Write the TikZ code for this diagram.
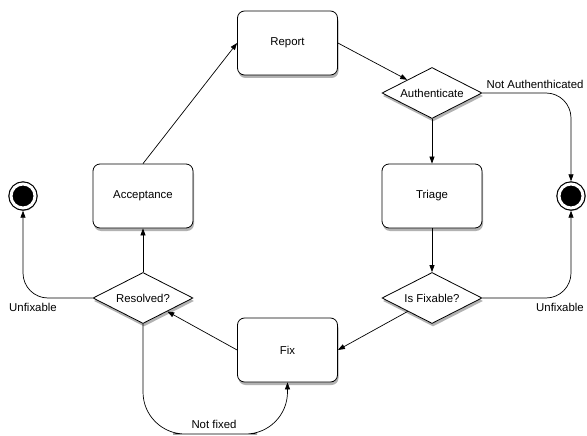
\documentclass[tikz,border=0pt]{standalone}
\usepackage{fontspec}
\setmainfont{Liberation Sans}
\usetikzlibrary{shapes.geometric,shadows,arrows.meta}

\tikzset{
  shade/.style={drop shadow={shadow xshift=1pt,shadow yshift=-3pt,opacity=0.3,fill=black}},
  state/.style={draw,rounded corners=7pt,fill=white,minimum width=100pt,minimum height=64pt,line width=0.8pt,shade},
  decision/.style={draw,diamond,aspect=2,fill=white,minimum width=100pt,minimum height=51pt,inner sep=0pt,line width=0.8pt,shade},
  endstate/.style={circle,draw=black,fill=black,double=white,double distance=3pt,line width=1.2pt,minimum size=24pt,outer sep=2.7pt,shade},
  flow/.style={-{Triangle[length=7pt,width=5pt]},line width=0.7pt},
  lbl/.style={font=\fontsize{11.4}{13}\selectfont}
}

\begin{document}
\begin{tikzpicture}[x=1pt,y=-1pt,lbl]
		%%Frame
		\useasboundingbox[fill=white] (0,0) rectangle (587,436);
		%%States
		\node[state] (report) at (287.5,43) {Report};
		\node[decision] (auth) at (432,93) {Authenticate};
		\node[state] (triage) at (432,196) {Triage};
		\node[decision] (isfix) at (432,298) {Is Fixable?};
		\node[state] (fix) at (287.5,350) {Fix};
		\node[decision] (resolved) at (143,298) {Resolved?};
		\node[state] (accept) at (143,196) {Acceptance};
		%%End states
		\node[endstate] (endL) at (23,196) {};
		\node[endstate] (endR) at (571,196) {};
		\coordinate (loop) at (215,434);
		%%Flow
		\draw[flow] (report.east) -- (auth);
		\draw[flow] (auth) -- (triage);
		\draw[flow] (triage) -- (isfix);
		\draw[flow] (isfix) -- (fix.east);
		\draw[flow] (fix.west) -- (resolved);
		\draw[flow] (resolved) -- (accept);
		\draw[flow] (accept.north) -- (report.west);
		\draw[flow,rounded corners=25pt] (auth.east) -| (endR.north);
		\draw[flow,rounded corners=25pt] (isfix.east) -| (endR.south);
		\draw[flow,rounded corners=25pt] (resolved.west) -| (endL.south);
		\draw[flow,rounded corners=42pt] (resolved.south) |- (loop) -| (fix.south);
		%%Label
		\node (lblauth) at (535,84) {Not Authenthicated};
		\node (lblfixL) at (33,307) {Unfixable};
		\node (lblfixR) at (560,307) {Unfixable};
		\node (lblloop) at (214,424) {Not fixed};
\end{tikzpicture}
\end{document}
